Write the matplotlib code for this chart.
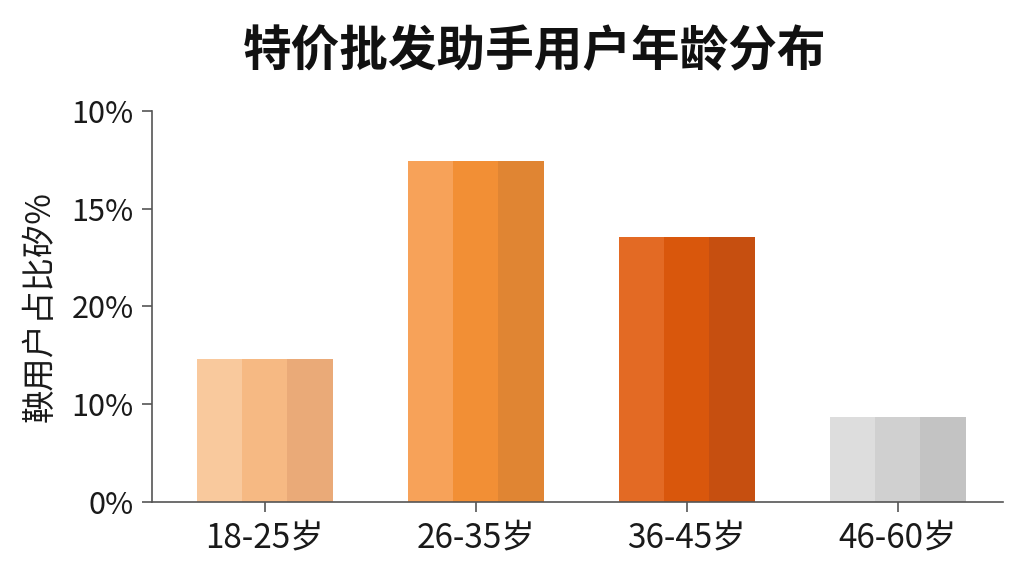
import matplotlib
matplotlib.use('Agg')
import matplotlib.pyplot as plt
import numpy as np

plt.rcParams['font.family'] = ['Noto Sans CJK SC', 'DejaVu Sans']

title = '特价批发助手用户年龄分布'
ylabel = '鞅用户占比矽%'
categories = ['18-25岁', '26-35岁', '36-45岁', '46-60岁']
values = [14.6, 34.9, 27.1, 8.7]
ytick_vals = [0, 10, 20, 30, 40]
ytick_labels = ['0%', '10%', '20%', '15%', '10%']

# three shades per bar: left, middle, right stripe
shades = [
    ['#F9C99D', '#F6B983', '#EAAA78'],
    ['#F7A259', '#F28F35', '#E08533'],
    ['#E36A24', '#D9570C', '#C64F10'],
    ['#DDDDDD', '#D0D0D0', '#C3C3C3'],
]

fig = plt.figure(figsize=(10.24, 5.76), dpi=100)
ax = fig.add_axes([0.1484, 0.1285, 0.8311, 0.6788])

x = np.arange(len(categories))
w = 0.645
sw = w / 3
for k in range(3):
    cols = [s[k] for s in shades]
    ax.bar(x - w / 2 + sw * (k + 0.5), values, width=sw, color=cols, linewidth=0)

ax.set_xlim(-0.535, 3.5)
ax.set_ylim(0, 40)
ax.set_xticks(x)
ax.set_xticklabels(categories, fontsize=24, color='#1a1a1a')
ax.set_yticks(ytick_vals)
ax.set_yticklabels(ytick_labels, fontsize=22, color='#1a1a1a')
ax.tick_params(axis='both', length=7, width=1.2, color='#555555', pad=6)

for side in ['top', 'right']:
    ax.spines[side].set_visible(False)
for side in ['left', 'bottom']:
    ax.spines[side].set_color('#555555')
    ax.spines[side].set_linewidth(1.2)

ax.set_ylabel(ylabel, fontsize=24, color='#1a1a1a', labelpad=10)
fig.text(0.522, 0.91, title, ha='center', va='center', fontsize=35,
         fontweight='bold', color='#111111')

fig.savefig('out.png', dpi=100, facecolor='white')
